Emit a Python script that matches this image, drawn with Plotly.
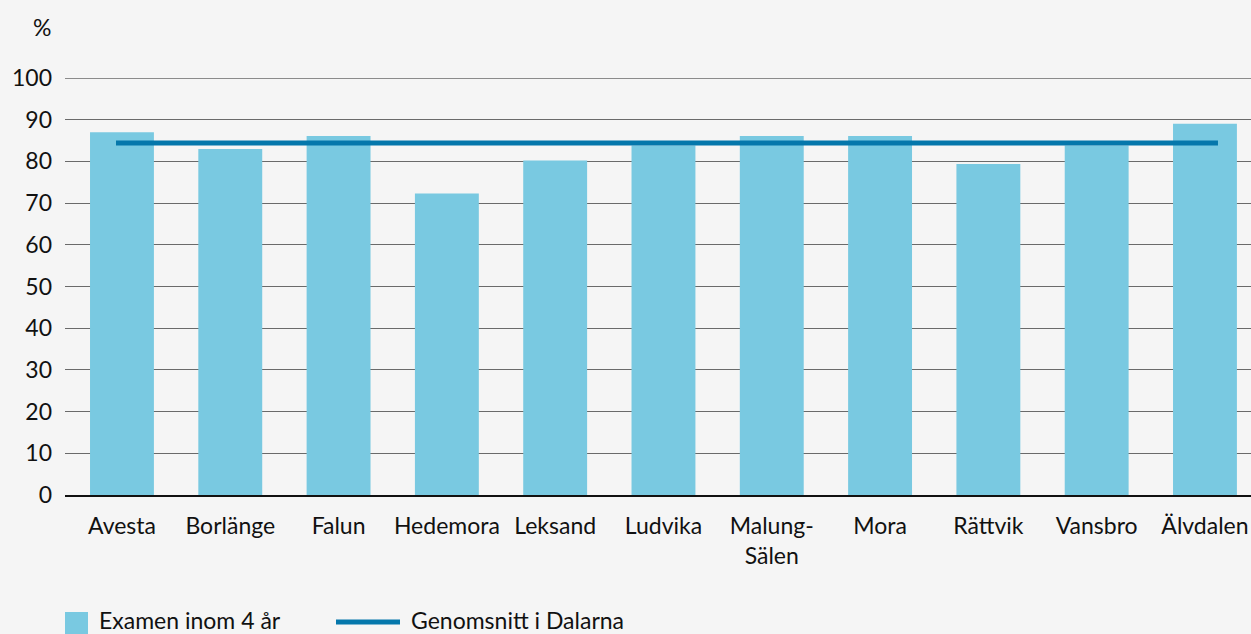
import plotly.graph_objects as go

# Municipalities in Dalarna
kommuner = ["Avesta", "Borlänge", "Falun", "Hedemora", "Leksand", "Ludvika",
            "Malung-<br>Sälen", "Mora", "Rättvik", "Vansbro", "Älvdalen"]
# Share of students graduating within 4 years (%)
examen_4_ar = [87.0, 83.0, 86.1, 72.3, 80.2, 83.8, 86.1, 86.1, 79.4, 83.8, 89.0]
# County average
genomsnitt_dalarna = 84.4

y_ticks = [0, 10, 20, 30, 40, 50, 60, 70, 80, 90, 100]

BAR_COLOR = "#79c9e1"
LINE_COLOR = "#0577ab"
BG = "#f5f5f5"
FONT = "Lato, 'Noto Sans', sans-serif"
TXT = "#111111"
FS = 23

W, H = 1251, 634
ML, MR, MT, MB = 65, 0, 78, 139
PW, PH = W - ML - MR, H - MT - MB

idx = list(range(len(kommuner)))

fig = go.Figure()
fig.add_trace(go.Bar(
    x=idx, y=examen_4_ar, width=0.59,
    marker=dict(color=BAR_COLOR, line=dict(width=0)),
    name="Examen inom 4 år",
))
# average line stretched slightly past the first and last bar centres
fig.add_trace(go.Scatter(
    x=[idx[0] - 0.055, idx[-1] + 0.12],
    y=[genomsnitt_dalarna, genomsnitt_dalarna],
    mode="lines", line=dict(color=LINE_COLOR, width=5),
    name="Genomsnitt i Dalarna",
))


def px_x(px):
    return (px - ML) / PW


def px_y(py):
    return (H - MB - py) / PH


# legend drawn below the plot, in paper coordinates
shapes = [
    # darker top rule at 100 %
    dict(type="line", xref="paper", yref="y", x0=0, x1=1, y0=y_ticks[-1], y1=y_ticks[-1],
         line=dict(color="#222222", width=1), layer="below"),
    dict(type="rect", xref="paper", yref="paper",
         x0=px_x(65), x1=px_x(88), y0=px_y(640), y1=px_y(612),
         fillcolor=BAR_COLOR, line=dict(width=0)),
    dict(type="line", xref="paper", yref="paper",
         x0=px_x(336), x1=px_x(400), y0=px_y(622), y1=px_y(622),
         line=dict(color=LINE_COLOR, width=5)),
]
annotations = [
    dict(text="%", xref="paper", yref="paper", x=px_x(42), y=px_y(27),
         xanchor="center", yanchor="middle", showarrow=False,
         font=dict(size=FS, color=TXT)),
    dict(text="Examen inom 4 år", xref="paper", yref="paper", x=px_x(97), y=px_y(620),
         xanchor="left", yanchor="middle", showarrow=False,
         font=dict(size=FS, color=TXT)),
    dict(text="Genomsnitt i Dalarna", xref="paper", yref="paper", x=px_x(409), y=px_y(620),
         xanchor="left", yanchor="middle", showarrow=False,
         font=dict(size=FS, color=TXT)),
]

fig.update_layout(
    width=W, height=H,
    paper_bgcolor=BG, plot_bgcolor=BG,
    margin=dict(l=ML, r=MR, t=MT, b=MB, autoexpand=False),
    font=dict(family=FONT, size=FS, color=TXT),
    showlegend=False,
    xaxis=dict(
        range=[-0.526, 10.425], tickmode="array", tickvals=idx, ticktext=kommuner,
        showgrid=False, zeroline=False, showline=True, linecolor=TXT, linewidth=1.5,
        ticks="", tickangle=0, ticklabelstandoff=10, fixedrange=True,
    ),
    yaxis=dict(
        range=[0, 100], tickmode="array", tickvals=y_ticks,
        showgrid=True, gridcolor="#6a6a6a", gridwidth=1,
        zeroline=False, showline=False, ticks="", ticklabelstandoff=12,
    ),
    shapes=shapes,
    annotations=annotations,
)

fig.write_html("out.html")
